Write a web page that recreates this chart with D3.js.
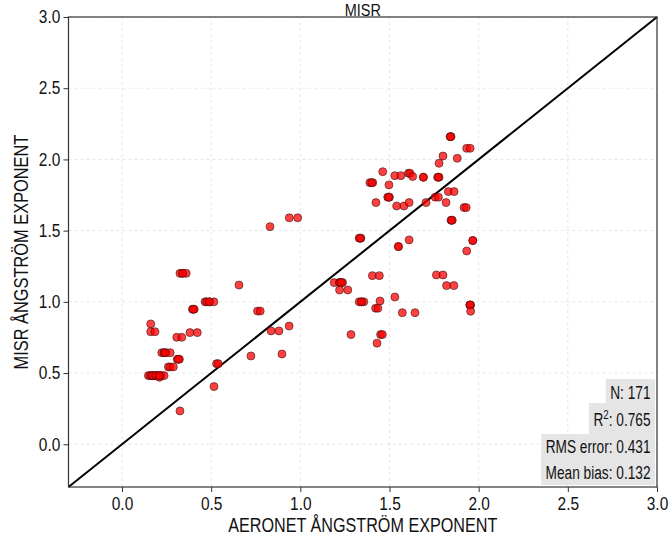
<!DOCTYPE html>
<html>
<head>
<meta charset="utf-8">
<script src="https://cdn.jsdelivr.net/npm/d3@7"></script>
<style>
  body { margin: 0; background: #fff; }
  svg { display: block; font-family: "Liberation Sans", Arial, sans-serif; }
</style>
</head>
<body>
<div id="chart"></div>
<script>
// AERONET vs MISR Angstrom exponent
const aeronet = [
  0.325, 0.34, 0.36, 0.34, 0.656, 0.466, 0.475, 0.49, 0.515, 0.49, 0.76, 0.775,
  0.395, 0.405, 0.40, 0.161, 0.161, 0.185, 0.307, 0.335, 0.381, 0.422,
  0.223, 0.235, 0.247, 0.27, 0.24, 0.31, 0.322, 0.316, 0.26, 0.27, 0.288,
  0.148, 0.158, 0.168, 0.178, 0.19, 0.20, 0.21, 0.22, 0.236, 0.17, 0.19, 0.21, 0.21,
  0.53, 0.54, 0.516, 0.325, 0.723, 0.897, 0.938, 0.985, 0.83, 0.836, 0.88, 0.937,
  1.84, 1.845, 1.842, 1.933, 1.952, 1.80, 1.88, 1.778, 1.462, 1.53, 1.564,
  1.606, 1.615, 1.63, 1.69, 1.69, 1.77, 1.778, 1.774, 1.39, 1.406, 1.40, 1.497,
  1.83, 1.862, 1.49, 1.50, 1.495, 1.756, 1.774, 1.424, 1.54, 1.581, 1.61, 1.705,
  1.817, 1.918, 1.93, 1.845, 1.852, 1.848, 1.33, 1.34, 1.335, 1.61, 1.967, 1.967,
  1.55, 1.55, 1.933, 1.404, 1.443, 1.763, 1.80, 1.19, 1.22, 1.226, 1.237, 1.22, 1.23,
  1.82, 1.861, 1.22, 1.266, 1.33, 1.343, 1.356, 1.343, 1.447, 1.53, 1.422, 1.435,
  1.572, 1.643, 1.95, 1.955, 1.952, 1.955, 1.284, 1.45, 1.46, 1.43
];
const misr = [
  1.20, 1.20, 1.20, 1.20, 1.118, 1.0, 1.0, 1.0, 1.0, 1.0, 0.935, 0.935,
  0.948, 0.948, 0.948, 0.845, 0.79, 0.79, 0.751, 0.751, 0.784, 0.784,
  0.643, 0.643, 0.643, 0.643, 0.643, 0.597, 0.597, 0.597, 0.543, 0.543, 0.543,
  0.482, 0.482, 0.482, 0.482, 0.482, 0.482, 0.482, 0.482, 0.482, 0.482, 0.482, 0.47, 0.482,
  0.566, 0.566, 0.405, 0.234, 0.62, 0.634, 1.59, 1.59, 1.528, 0.796, 0.796, 0.83,
  2.16, 2.16, 2.16, 2.078, 2.078, 2.024, 2.008, 1.973, 1.914, 1.886, 1.886,
  1.903, 1.903, 1.88, 1.875, 1.875, 1.875, 1.875, 1.875, 1.837, 1.837, 1.837, 1.821,
  1.774, 1.774, 1.735, 1.735, 1.735, 1.735, 1.735, 1.697, 1.673, 1.673, 1.697, 1.697,
  1.697, 1.662, 1.662, 1.573, 1.573, 1.573, 1.447, 1.447, 1.447, 1.435, 1.43, 1.43,
  1.388, 1.388, 1.357, 1.184, 1.184, 1.189, 1.189, 1.135, 1.135, 1.135, 1.135, 1.135, 1.135,
  1.114, 1.114, 1.083, 1.083, 1.0, 1.0, 1.0, 1.0, 1.006, 1.034, 0.955, 0.955,
  0.924, 0.924, 0.978, 0.978, 0.978, 0.934, 0.77, 0.77, 0.77, 0.71
];

const ticks = [0.0, 0.5, 1.0, 1.5, 2.0, 2.5, 3.0];
const statLabels = ["N: ", "R", "RMS error: ", "Mean bias: "];
const statValues = ["171", "0.765", "0.431", "0.132"];

const width = 671, height = 538;
const margin = { top: 17, right: 14, bottom: 51, left: 68.5 };

const svg = d3.select("#chart").append("svg")
  .attr("width", width)
  .attr("height", height);

const x = d3.scaleLinear().domain([-0.3, 3.0]).range([margin.left, width - margin.right]);
const y = d3.scaleLinear().domain([-0.3, 3.0]).range([height - margin.bottom, margin.top]);

// the reference uses a narrow face, squeeze text horizontally to get close
function label(px, py, size, k, rot) {
  return svg.append("text")
    .attr("transform", `translate(${px},${py})` + (rot ? ` rotate(${rot})` : "") + ` scale(${k},1)`)
    .attr("text-anchor", "middle")
    .style("font-size", size + "px")
    .attr("fill", "#111");
}

// dashed grid
const grid = svg.append("g");
grid.selectAll("line.gx").data(ticks).enter().append("line")
  .attr("x1", d => x(d)).attr("x2", d => x(d))
  .attr("y1", y.range()[0]).attr("y2", y.range()[1])
  .attr("stroke", "#e6e6e6").attr("stroke-dasharray", "3,3");
grid.selectAll("line.gy").data(ticks).enter().append("line")
  .attr("y1", d => y(d)).attr("y2", d => y(d))
  .attr("x1", x.range()[0]).attr("x2", x.range()[1])
  .attr("stroke", "#e6e6e6").attr("stroke-dasharray", "3,3");

// 1:1 line
svg.append("line")
  .attr("x1", x(-0.3)).attr("y1", y(-0.3))
  .attr("x2", x(3.0)).attr("y2", y(3.0))
  .attr("stroke", "#000").attr("stroke-width", 2);

// points
const pts = aeronet.map((a, i) => ({ a: a, m: misr[i] }));
svg.append("g").selectAll("circle").data(pts).enter().append("circle")
  .attr("cx", d => x(d.a))
  .attr("cy", d => y(d.m))
  .attr("r", 4)
  .attr("fill", "#ff0000")
  .attr("fill-opacity", 0.75)
  .attr("stroke", "#3a1010")
  .attr("stroke-opacity", 0.75)
  .attr("stroke-width", 0.8);

// axes
const xAxis = svg.append("g")
  .attr("transform", `translate(0,${y.range()[0]})`)
  .call(d3.axisBottom(x).tickValues(ticks).tickFormat(d3.format(".1f")).tickSize(5).tickPadding(5));
const yAxis = svg.append("g")
  .attr("transform", `translate(${x.range()[0]},0)`)
  .call(d3.axisLeft(y).tickValues(ticks).tickFormat(d3.format(".1f")).tickSize(5).tickPadding(3));
[xAxis, yAxis].forEach(g => {
  g.select(".domain").remove();
  g.selectAll("line").attr("stroke", "#333");
  g.selectAll("text").attr("fill", "#111").style("font-size", "18px")
    .style("font-family", "'Liberation Sans', Arial, sans-serif");
});
xAxis.selectAll("text").attr("transform", "scale(0.86,1)");
yAxis.selectAll("text").attr("x", -9.5).attr("transform", "scale(0.86,1)");

// frame
svg.append("rect")
  .attr("x", x.range()[0]).attr("y", y.range()[1])
  .attr("width", x.range()[1] - x.range()[0])
  .attr("height", y.range()[0] - y.range()[1])
  .attr("fill", "none").attr("stroke", "#333").attr("stroke-width", 1.2);

// title and labels
const midX = (x.range()[0] + x.range()[1]) / 2;
label(midX, 15.5, 17, 0.85).text("MISR");
label(midX, 532, 21, 0.77).text("AERONET ÅNGSTRÖM EXPONENT");
label(28, (y.range()[0] + y.range()[1]) / 2, 21, 0.78, -90).text("MISR ÅNGSTRÖM EXPONENT");

// stats boxes
const rightEdge = 655, textRight = 650.5, k = 0.72;
const rows = [
  { top: 379, bottom: 403, base: 399 },
  { top: 403, bottom: 434, base: 426 },
  { top: 434, bottom: 461, base: 453 },
  { top: 461, bottom: 485, base: 479 }
];
const stats = svg.append("g");
rows.forEach((r, i) => {
  const rect = stats.append("rect").attr("fill", "#e5e5e5");
  const t = stats.append("text")
    .attr("transform", `translate(${textRight},${r.base}) scale(${k},1)`)
    .attr("text-anchor", "end").style("font-size", "19px").attr("fill", "#111");
  if (i === 1) {
    t.append("tspan").text(statLabels[i]);
    t.append("tspan").attr("dy", -7).style("font-size", "13.5px").text("2");
    t.append("tspan").attr("dy", 7).text(": " + statValues[i]);
  } else {
    t.text(statLabels[i] + statValues[i]);
  }
  const w = t.node().getComputedTextLength() * k;
  rect.attr("x", textRight - w - 4.5).attr("y", r.top)
    .attr("width", rightEdge - (textRight - w - 4.5)).attr("height", r.bottom - r.top);
});
</script>
</body>
</html>
